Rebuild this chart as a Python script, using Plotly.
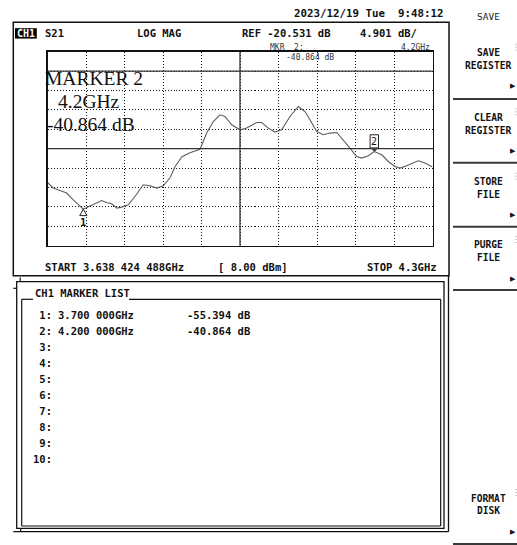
import plotly.graph_objects as go

# ---- instrument settings ----
start_ghz = 3.638424488
stop_ghz = 4.3
ref_db = -20.531
scale_db = 4.901
ref_pos = 9          # graticule line holding the reference (0 = bottom, 10 = top)
divisions = 10
power_dbm = 8.00
channel = "CH1"
param = "S21"
fmt_name = "LOG MAG"
timestamp = "2023/12/19 Tue  9:48:12"

# ---- measured S21 trace ----
freq_ghz = [
    3.6384, 3.6484, 3.6599, 3.6714, 3.6827, 3.6943, 3.7000, 3.7040, 3.7171, 3.7315,
    3.7401, 3.7487, 3.7573, 3.7659, 3.7772, 3.7888, 3.8030, 3.8145, 3.8260, 3.8374,
    3.8489, 3.8575, 3.8695, 3.8833, 3.9005, 3.9120, 3.9233, 3.9348, 3.9434, 3.9549,
    3.9692, 3.9807, 3.9979, 4.0065, 4.0178, 4.0293, 4.0408, 4.0551, 4.0694, 4.0809,
    4.0895, 4.1010, 4.1123, 4.1238, 4.1354, 4.1467, 4.1582, 4.1697, 4.1783, 4.1897,
    4.2000, 4.2127, 4.2240, 4.2355, 4.2441, 4.2556, 4.2670, 4.2756, 4.2871, 4.3000,
]
s21_db = [
    -48.67, -50.09, -50.69, -51.35, -53.04, -54.56, -55.394, -55.14, -54.31, -53.22,
    -53.73, -54.05, -55.14, -54.89, -54.31, -52.21, -49.25, -49.51, -50.09, -49.51,
    -47.49, -44.71, -42.18, -41.17, -40.29, -36.19, -33.26, -31.57, -32.00, -34.10,
    -35.36, -34.93, -33.52, -33.52, -34.93, -35.94, -35.36, -32.00, -29.47, -30.74,
    -32.83, -35.79, -36.62, -36.19, -36.04, -37.89, -39.98, -42.10, -42.51, -41.93,
    -40.864, -41.68, -43.37, -44.63, -45.04, -44.45, -43.62, -43.19, -43.77, -44.78,
]

# ---- markers ----
marker_ids = [1, 2]
marker_freq = [3.700, 4.200]
marker_db = [-55.394, -40.864]
active_marker = 2
list_rows = 10

# ---- soft-key menu ----
menu_title = "SAVE"
softkeys = [("SAVE", "REGISTER"), ("CLEAR", "REGISTER"), ("STORE", "FILE"),
            ("PURGE", "FILE"), ("FORMAT", "DISK")]

# ---------------------------------------------------------------
W, H = 517, 545
MONO = "DejaVu Sans Mono"
SERIF = "Liberation Serif"
INK = "#111111"
NBSP = "\u00a0"


def px(x):
    return x / W


def py(y):
    return 1 - y / H


def fmt_ghz(g, decimals):
    s = f"{g:.{decimals}f}"
    head, tail = s.split(".")
    groups = [tail[i:i + 3] for i in range(0, len(tail), 3)]
    return head + "." + " ".join(groups)


def short_ghz(g):
    return f"{g:g}GHz"


annotations = []
shapes = []


def text(x, y, s, size=10.5, anchor="left", bold=True, family=MONO, color=INK):
    annotations.append(dict(
        x=px(x), y=py(y), xref="paper", yref="paper",
        text=s.replace(" ", NBSP), showarrow=False,
        xanchor=anchor, yanchor="middle",
        font=dict(family=family, size=size, color=color,
                  weight="bold" if bold else "normal"),
    ))


def line(x0, y0, x1, y1, color=INK, width=1.2, dash="solid"):
    shapes.append(dict(type="line", xref="paper", yref="paper",
                       x0=px(x0), y0=py(y0), x1=px(x1), y1=py(y1),
                       line=dict(color=color, width=width, dash=dash)))


def rect(x0, y0, x1, y1, color=INK, width=1.2, fill="rgba(0,0,0,0)"):
    shapes.append(dict(type="rect", xref="paper", yref="paper",
                       x0=px(x0), y0=py(y0), x1=px(x1), y1=py(y1),
                       line=dict(color=color, width=width), fillcolor=fill))


# graticule geometry
PL, PR, PT, PB = 47.5, 432.5, 51.7, 245.7
y_lo = ref_db - ref_pos * scale_db
y_hi = ref_db + (divisions - ref_pos) * scale_db
span = stop_ghz - start_ghz

fig = go.Figure()
fig.add_trace(go.Scatter(
    x=freq_ghz, y=s21_db, mode="lines",
    line=dict(color="#5c5c5c", width=1.1), hoverinfo="skip",
))

# solid reference line, centre lines
shapes.append(dict(type="line", xref="x domain", yref="y", x0=0, x1=1,
                   y0=ref_db, y1=ref_db, line=dict(color="#333", width=1.3)))
centre_db = y_lo + divisions / 2 * scale_db
shapes.append(dict(type="line", xref="x domain", yref="y", x0=0, x1=1,
                   y0=centre_db, y1=centre_db, line=dict(color="#333", width=1.3)))
centre_f = start_ghz + span / 2
shapes.append(dict(type="line", xref="x", yref="y domain", x0=centre_f, x1=centre_f,
                   y0=0, y1=1, line=dict(color="#333", width=1.3)))

# marker symbols on the trace
for mid, mf, md in zip(marker_ids, marker_freq, marker_db):
    if mid == active_marker:
        shapes.append(dict(type="rect", xref="x", yref="y", xsizemode="pixel",
                           ysizemode="pixel", xanchor=mf, yanchor=md,
                           x0=-4.2, x1=4.2, y0=3.5, y1=16.8,
                           line=dict(color="#222", width=1)))
        shapes.append(dict(type="path", xref="x", yref="y", xsizemode="pixel",
                           ysizemode="pixel", xanchor=mf, yanchor=md,
                           path="M -3.5 3.5 L 3.5 3.5 L 0 0 Z",
                           line=dict(color="#444", width=1), fillcolor="#444"))
        annotations.append(dict(x=mf, y=md, xref="x", yref="y", text=str(mid),
                                showarrow=False, yshift=10.2,
                                font=dict(family=MONO, size=10, color=INK)))
    else:
        shapes.append(dict(type="path", xref="x", yref="y", xsizemode="pixel",
                           ysizemode="pixel", xanchor=mf, yanchor=md,
                           path="M 0 0 L -3.6 -6.5 L 3.6 -6.5 Z",
                           line=dict(color="#222", width=1)))
        annotations.append(dict(x=mf, y=md, xref="x", yref="y", text=str(mid),
                                showarrow=False, yshift=-12.5,
                                font=dict(family=MONO, size=10.5, color=INK,
                                          weight="bold")))

# ---- upper panel ----
rect(13.3, 22.3, 449, 275.7, width=1.5)
rect(15, 28.2, 36.8, 38.6, color="#000", width=0, fill="#000")
text(25.9, 33.4, channel, size=10, anchor="center", color="#ffffff")
text(42.7, 33.3, param)
text(135, 33.3, fmt_name)
text(240, 33.3, f"REF {ref_db:.3f} dB")
text(357.5, 33.3, f"{scale_db:.3f} dB/")
text(291.5, 13.3, timestamp, size=10.8)

ai = marker_ids.index(active_marker)
act_f, act_db = marker_freq[ai], marker_db[ai]
text(268, 47.5, f"MKR  {active_marker}:", size=8, bold=False, color="#333")
text(432, 47.5, short_ghz(act_f), size=8, bold=False, anchor="right", color="#333")
text(284, 57.5, f"{act_db:.3f} dB", size=8, bold=False, color="#333")

text(42.5, 78.5, f"MARKER {active_marker}", size=19.5, bold=False, family=SERIF)
text(56, 101.5, short_ghz(act_f), size=19.5, bold=False, family=SERIF)
text(44.5, 125, f"{act_db:.3f} dB", size=19.5, bold=False, family=SERIF)

text(43, 267, f"START {fmt_ghz(start_ghz, 9)}GHz")
text(216, 267, f"[ {power_dbm:.2f} dBm]")
text(438.5, 267, f"STOP {short_ghz(stop_ghz)}", anchor="right")

# ---- marker list window ----
line(448.5, 275.7, 448.5, 531.7, width=1.3)
line(13.3, 531.7, 448.5, 531.7, width=1.3)
line(20.7, 528.3, 20.7, 531.7, width=1.2)
line(20.2, 277.5, 20.2, 281.7, width=1.2)
line(13.3, 288.3, 16.7, 288.3, width=1.2)
rect(16.7, 281.7, 444, 528.3, width=1.3)
line(21.7, 299.3, 33, 299.3)
line(129, 299.3, 440.7, 299.3)
line(21.7, 299.3, 21.7, 526)
line(21.7, 526, 440.7, 526)
line(440.7, 299.3, 440.7, 526)
text(33.3, 293, f"{channel} MARKER LIST")

for i in range(1, list_rows + 1):
    yy = 315 + (i - 1) * 16
    text(31, yy, f"{i:>2}:")
    if i in marker_ids:
        k = marker_ids.index(i)
        text(56, yy, f"{fmt_ghz(marker_freq[k], 6)}GHz")
        text(185, yy, f"{marker_db[k]:.3f} dB")

# ---- soft-key menu ----
KX = 488
text(488, 16.5, menu_title, size=9.5, anchor="center", bold=False, color="#222")
key_tops = [52.7, 117.3, 181.7, 245, 498]
key_lines = [99, 162.7, 226.7, 290, 544]
for (l1, l2), yt, yl in zip(softkeys, key_tops, key_lines):
    text(KX, yt, l1, size=9.6, anchor="center")
    text(KX, yt + 12.8, l2, size=9.6, anchor="center")
    text(513, yt + 33.5, "\u25b6", size=7, anchor="center", family="DejaVu Sans")
    line(453, yl, 517, yl, color="#3a3a3a", width=2)
    line(516, yt - 9, 516, yt - 2, color="#999", width=1, dash="1px,2px")

fig.update_layout(
    width=W, height=H,
    margin=dict(l=0, r=0, t=0, b=0),
    paper_bgcolor="white", plot_bgcolor="white",
    showlegend=False,
    xaxis=dict(domain=[px(PL), px(PR)], range=[start_ghz, stop_ghz],
               tick0=start_ghz, dtick=span / divisions, showticklabels=False,
               ticks="", showgrid=True, gridcolor="#111", gridwidth=1,
               griddash="1px,2px", zeroline=False, showline=True, mirror=True,
               linecolor="#111", linewidth=1.5, fixedrange=True),
    yaxis=dict(domain=[py(PB), py(PT)], range=[y_lo, y_hi],
               tick0=ref_db, dtick=scale_db, showticklabels=False,
               ticks="", showgrid=True, gridcolor="#111", gridwidth=1,
               griddash="1px,2px", zeroline=False, showline=True, mirror=True,
               linecolor="#111", linewidth=1.5, fixedrange=True),
    shapes=shapes,
    annotations=annotations,
)

fig.write_html("out.html", config={"displayModeBar": False, "staticPlot": True})
